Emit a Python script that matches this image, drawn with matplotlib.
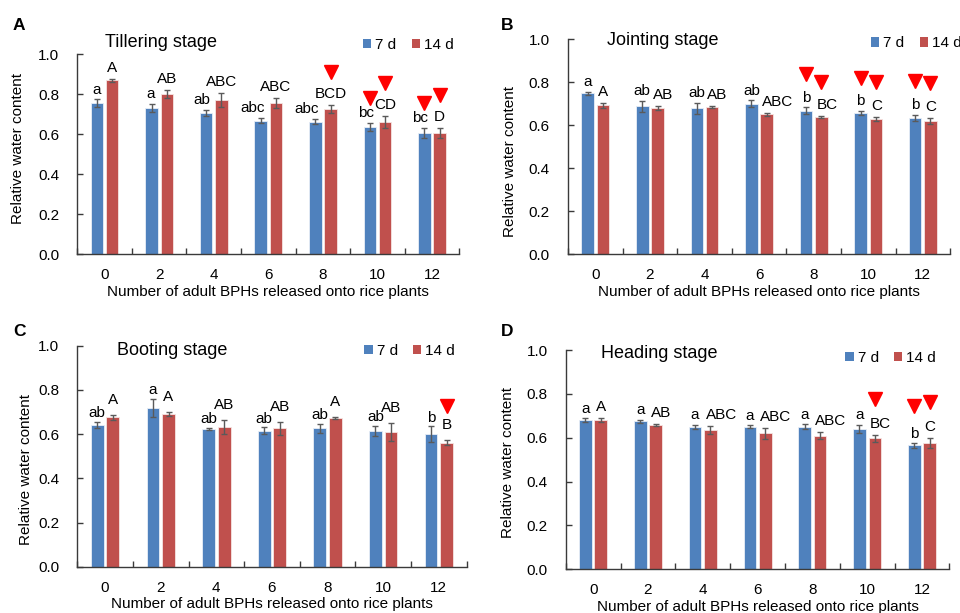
import matplotlib
matplotlib.use('Agg')
import matplotlib.pyplot as plt
from matplotlib.patches import Patch
from matplotlib.transforms import offset_copy
import numpy as np

plt.rcParams['font.family'] = ['Liberation Sans', 'DejaVu Sans']

# ---------------- data ----------------
bph_numbers = ['0', '2', '4', '6', '8', '10', '12']
series_labels = ['7 d', '14 d']
xlabel_text = 'Number of adult BPHs released onto rice plants'
ylabel_text = 'Relative water content'

# A: Tillering stage
tiller_7d = [0.753, 0.732, 0.705, 0.667, 0.662, 0.635, 0.607]
tiller_7d_err = [0.020, 0.020, 0.015, 0.013, 0.013, 0.020, 0.025]
tiller_14d = [0.868, 0.802, 0.770, 0.753, 0.723, 0.658, 0.605]
tiller_14d_err = [0.007, 0.020, 0.033, 0.025, 0.020, 0.030, 0.025]
tiller_7d_letters = ['a', 'a', 'ab', 'abc', 'abc', 'bc', 'bc']
tiller_14d_letters = ['A', 'AB', 'ABC', 'ABC', 'BCD', 'CD', 'D']
tiller_7d_flag = [0, 0, 0, 0, 0, 1, 1]
tiller_14d_flag = [0, 0, 0, 0, 1, 1, 1]

# B: Jointing stage
joint_7d = [0.747, 0.687, 0.678, 0.700, 0.667, 0.656, 0.634]
joint_7d_err = [0.007, 0.025, 0.025, 0.016, 0.016, 0.010, 0.014]
joint_14d = [0.691, 0.679, 0.682, 0.650, 0.636, 0.628, 0.619]
joint_14d_err = [0.010, 0.010, 0.005, 0.008, 0.005, 0.009, 0.015]
joint_7d_letters = ['a', 'ab', 'ab', 'ab', 'b', 'b', 'b']
joint_14d_letters = ['A', 'AB', 'AB', 'ABC', 'BC', 'C', 'C']
joint_7d_flag = [0, 0, 0, 0, 1, 1, 1]
joint_14d_flag = [0, 0, 0, 0, 1, 1, 1]

# C: Booting stage
boot_7d = [0.641, 0.718, 0.624, 0.615, 0.626, 0.614, 0.600]
boot_7d_err = [0.015, 0.040, 0.005, 0.015, 0.020, 0.022, 0.035]
boot_14d = [0.676, 0.691, 0.632, 0.626, 0.673, 0.611, 0.561]
boot_14d_err = [0.010, 0.008, 0.030, 0.030, 0.005, 0.040, 0.012]
boot_7d_letters = ['ab', 'a', 'ab', 'ab', 'ab', 'ab', 'b']
boot_14d_letters = ['A', 'A', 'AB', 'AB', 'A', 'AB', 'B']
boot_7d_flag = [0, 0, 0, 0, 0, 0, 0]
boot_14d_flag = [0, 0, 0, 0, 0, 0, 1]

# D: Heading stage
head_7d = [0.681, 0.675, 0.650, 0.650, 0.650, 0.640, 0.565]
head_7d_err = [0.008, 0.006, 0.010, 0.006, 0.012, 0.020, 0.010]
head_14d = [0.681, 0.658, 0.635, 0.620, 0.609, 0.597, 0.574]
head_14d_err = [0.008, 0.005, 0.018, 0.025, 0.016, 0.016, 0.023]
head_7d_letters = ['a', 'a', 'a', 'a', 'a', 'a', 'b']
head_14d_letters = ['A', 'AB', 'ABC', 'ABC', 'ABC', 'BC', 'C']
head_7d_flag = [0, 0, 0, 0, 0, 0, 1]
head_14d_flag = [0, 0, 0, 0, 0, 1, 1]

# ---------------- style ----------------
BLUE = '#4F81BD'
RED = '#C0504D'
ERR = '#5a5a5a'
SPINE = '#3a3a3a'

fig = plt.figure(figsize=(9.6, 6.13), dpi=100)

panels = [
    dict(letter='A', title='Tillering stage',
         v7=tiller_7d, e7=tiller_7d_err, v14=tiller_14d, e14=tiller_14d_err,
         l7=tiller_7d_letters, l14=tiller_14d_letters, f7=tiller_7d_flag, f14=tiller_14d_flag,
         rect=[0.0805, 0.5856, 0.398, 0.3263], title_pos=(0.073, 1.06),
         leg_pos=(0.985, 1.045), ylab=(-0.137, 0.527), letter_pos=(19, 25),
         lower_ha='right', upper_ha='center', tri=(18, 24), pads=(4, 5)),
    dict(letter='B', title='Jointing stage',
         v7=joint_7d, e7=joint_7d_err, v14=joint_14d, e14=joint_14d_err,
         l7=joint_7d_letters, l14=joint_14d_letters, f7=joint_7d_flag, f14=joint_14d_flag,
         rect=[0.5917, 0.5856, 0.398, 0.3507], title_pos=(0.102, 0.995),
         leg_pos=(1.03, 0.98), ylab=(-0.134, 0.43), letter_pos=(507, 25),
         lower_ha='center', upper_ha='left', tri=(24, 25), pads=(4, 5)),
    dict(letter='C', title='Booting stage',
         v7=boot_7d, e7=boot_7d_err, v14=boot_14d, e14=boot_14d_err,
         l7=boot_7d_letters, l14=boot_14d_letters, f7=boot_7d_flag, f14=boot_14d_flag,
         rect=[0.0805, 0.0755, 0.4056, 0.3605], title_pos=(0.102, 0.98),
         leg_pos=(0.97, 0.977), ylab=(-0.114, 0.44), letter_pos=(19, 331),
         lower_ha='center', upper_ha='center', tri=(24, 24.5), pads=(3.5, 8)),
    dict(letter='D', title='Heading stage',
         v7=head_7d, e7=head_7d_err, v14=head_14d, e14=head_14d_err,
         l7=head_7d_letters, l14=head_14d_letters, f7=head_7d_flag, f14=head_14d_flag,
         rect=[0.5893, 0.0713, 0.3996, 0.3577], title_pos=(0.092, 0.982),
         leg_pos=(0.965, 0.963), ylab=(-0.132, 0.485), letter_pos=(507, 331),
         lower_ha='center', upper_ha='left', tri=(27, 26), pads=(4, 5)),
]

W = 0.23
OFF = 0.14
FS = 11
LOWER_SHIFT = {'right': 0.07, 'center': 0.0, 'left': -0.09}
UPPER_SHIFT = {'right': 0.07, 'center': 0.0, 'left': -0.09}

for p in panels:
    ax = fig.add_axes(p['rect'])
    x = np.arange(len(bph_numbers))
    x7 = x - OFF
    x14 = x + OFF
    ax.bar(x7, p['v7'], W, color=BLUE, edgecolor='#e8eef7', linewidth=0.6, zorder=2)
    ax.bar(x14, p['v14'], W, color=RED, edgecolor='#f5e4e3', linewidth=0.6, zorder=2)
    ax.errorbar(x7, p['v7'], yerr=p['e7'], fmt='none', ecolor=ERR, elinewidth=1.0,
                capsize=2.5, capthick=1.0, zorder=3)
    ax.errorbar(x14, p['v14'], yerr=p['e14'], fmt='none', ecolor=ERR, elinewidth=1.0,
                capsize=2.5, capthick=1.0, zorder=3)

    ax.set_xlim(-0.5, 6.5)
    ax.set_ylim(0, 1.0)
    yt = np.arange(0, 1.01, 0.2)
    ax.set_yticks(yt)
    ax.set_yticklabels(['%.1f' % v for v in yt], fontsize=FS)
    ax.set_xticks(x)
    ax.set_xticklabels(bph_numbers, fontsize=FS)
    ax.set_xticks(np.arange(-0.5, 7.0, 1.0), minor=True)
    ax.tick_params(axis='x', which='major', length=0, pad=10)
    ax.tick_params(axis='x', which='minor', length=4, direction='in', width=1, color=SPINE)
    ax.tick_params(axis='y', which='major', length=4, direction='in', width=1, color=SPINE, pad=13)
    for s in ['top', 'right']:
        ax.spines[s].set_visible(False)
    for s in ['left', 'bottom']:
        ax.spines[s].set_color(SPINE)
        ax.spines[s].set_linewidth(1.0)

    ax.set_xlabel(xlabel_text, fontsize=FS, labelpad=2)
    ax.set_ylabel(ylabel_text, fontsize=FS)
    ax.yaxis.set_label_coords(p['ylab'][0], p['ylab'][1])

    # significance letters and markers
    lha = p['lower_ha']
    uha = p['upper_ha']
    for i in range(len(x)):
        top7 = p['v7'][i] + p['e7'][i]
        top14 = p['v14'][i] + p['e14'][i]
        ax.annotate(p['l7'][i], (x7[i] + LOWER_SHIFT[lha], top7), xytext=(0, p['pads'][0]),
                    textcoords='offset points', ha=lha, va='baseline', fontsize=FS)
        ax.annotate(p['l14'][i], (x14[i] + UPPER_SHIFT[uha], top14), xytext=(0, p['pads'][1]),
                    textcoords='offset points', ha=uha, va='baseline', fontsize=FS)
        if p['f7'][i]:
            tr = offset_copy(ax.transData, fig=fig, x=0, y=p['tri'][0], units='points')
            ax.plot([x7[i]], [top7], marker='v', color='#FF0000', markersize=10,
                    linestyle='none', transform=tr, clip_on=False, zorder=4)
        if p['f14'][i]:
            tr = offset_copy(ax.transData, fig=fig, x=0, y=p['tri'][1], units='points')
            ax.plot([x14[i]], [top14], marker='v', color='#FF0000', markersize=10,
                    linestyle='none', transform=tr, clip_on=False, zorder=4)

    ax.text(p['title_pos'][0], p['title_pos'][1], p['title'], transform=ax.transAxes,
            fontsize=13, ha='left', va='center')

    handles = [Patch(facecolor=BLUE), Patch(facecolor=RED)]
    ax.legend(handles, series_labels, ncol=2, frameon=False, loc='center right',
              bbox_to_anchor=p['leg_pos'], handlelength=0.55, handleheight=0.55,
              handletextpad=0.25, columnspacing=1.0, fontsize=FS,
              borderaxespad=0, borderpad=0)

    lx, ly = p['letter_pos']
    fig.text(lx / 960.0, 1 - ly / 613.0, p['letter'], fontsize=12.5, fontweight='bold',
             ha='center', va='center')

fig.savefig('out.png', dpi=100)
